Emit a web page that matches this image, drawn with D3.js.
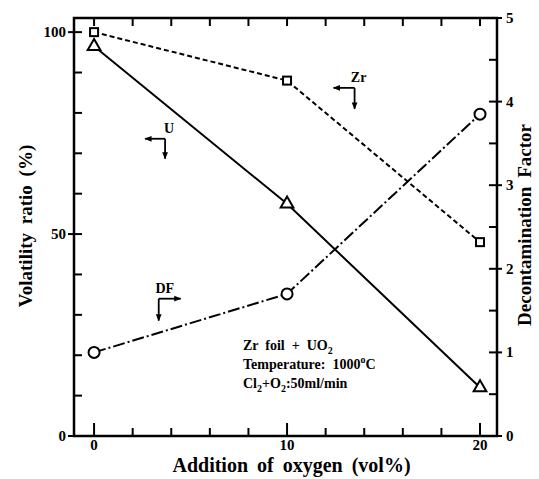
<!DOCTYPE html>
<html>
<head>
<meta charset="utf-8">
<script src="https://cdn.jsdelivr.net/npm/d3@7"></script>
<style>
  body { margin: 0; background: #fff; }
</style>
</head>
<body>
<div id="chart"></div>
<script>
// values
const oxygen = [0, 10, 20];                       // vol%
const zrVolatility = [100, 88, 48];               // %
const uVolatility = [96.5, 57.5, 12];             // %
const decontaminationFactor = [1.0, 1.7, 3.85];   // right axis

const xTicks = [0, 2, 4, 6, 8, 10, 12, 14, 16, 18, 20];
const xLabels = [0, 10, 20];
const leftTicks = [0, 10, 20, 30, 40, 50, 60, 70, 80, 90, 100];
const leftLabels = [0, 50, 100];
const rightTicks = [0, 0.5, 1, 1.5, 2, 2.5, 3, 3.5, 4, 4.5, 5];
const rightLabels = [0, 1, 2, 3, 4, 5];

const width = 539, height = 479;
const frame = {left: 74, right: 497, top: 18, bottom: 436};
const serif = "'Liberation Serif', 'DejaVu Serif', serif";

const svg = d3.select("#chart").append("svg")
    .attr("width", width)
    .attr("height", height)
    .attr("viewBox", `0 0 ${width} ${height}`)
    .attr("font-family", serif);

const x = d3.scaleLinear().domain([-1.04, 20.88]).range([frame.left, frame.right]);
const yL = d3.scaleLinear().domain([0, 103.5]).range([frame.bottom, frame.top]);
const yR = d3.scaleLinear().domain([0, 5]).range([frame.bottom, frame.top]);

// ticks
const tickG = svg.append("g").attr("stroke", "#000").attr("stroke-width", 2);
xTicks.forEach(v => {
    const major = v % 10 === 0;
    tickG.append("line").attr("x1", x(v)).attr("x2", x(v))
        .attr("y1", frame.bottom).attr("y2", frame.bottom - (major ? 13 : 8));
    tickG.append("line").attr("x1", x(v)).attr("x2", x(v))
        .attr("y1", frame.top).attr("y2", frame.top + 8);
});
leftTicks.forEach(v => {
    const major = v % 50 === 0;
    tickG.append("line").attr("y1", yL(v)).attr("y2", yL(v))
        .attr("x1", frame.left - (major ? 6 : 0)).attr("x2", frame.left + 8);
});
rightTicks.forEach(v => {
    const major = Number.isInteger(v);
    tickG.append("line").attr("y1", yR(v)).attr("y2", yR(v))
        .attr("x1", frame.right - 8).attr("x2", frame.right + (major ? 5 : 0));
});

// frame
svg.append("rect")
    .attr("x", frame.left).attr("y", frame.top)
    .attr("width", frame.right - frame.left)
    .attr("height", frame.bottom - frame.top)
    .attr("fill", "none").attr("stroke", "#000").attr("stroke-width", 2.5);

// tick labels
svg.selectAll(".xl").data(xLabels).join("text")
    .attr("x", d => x(d)).attr("y", frame.bottom + 14)
    .attr("text-anchor", "middle").attr("font-size", 15).attr("font-weight", "bold")
    .text(d => d);
svg.selectAll(".ll").data(leftLabels).join("text")
    .attr("x", frame.left - 8).attr("y", d => yL(d) + 5)
    .attr("text-anchor", "end").attr("font-size", 15).attr("font-weight", "bold")
    .text(d => d);
svg.selectAll(".rl").data(rightLabels).join("text")
    .attr("x", frame.right + 9).attr("y", d => yR(d) + 5)
    .attr("text-anchor", "start").attr("font-size", 15).attr("font-weight", "bold")
    .text(d => d);

// axis titles
svg.append("text")
    .attr("x", (frame.left + frame.right) / 2 + 6).attr("y", 472)
    .attr("text-anchor", "middle").attr("font-size", 20)
    .attr("font-weight", "bold").attr("word-spacing", 4)
    .text("Addition of oxygen (vol%)");
svg.append("text")
    .attr("transform", "translate(32,226) rotate(-90)")
    .attr("text-anchor", "middle").attr("font-size", 19)
    .attr("font-weight", "bold").attr("word-spacing", 4)
    .text("Volatility ratio (%)");
svg.append("text")
    .attr("transform", "translate(531,225) rotate(-90)")
    .attr("text-anchor", "middle").attr("font-size", 19)
    .attr("font-weight", "bold").attr("word-spacing", 4)
    .text("Decontamination Factor");

// series
const lineL = d3.line().x((d, i) => x(oxygen[i])).y(d => yL(d));
const lineR = d3.line().x((d, i) => x(oxygen[i])).y(d => yR(d));

svg.append("path").datum(zrVolatility).attr("d", lineL)
    .attr("fill", "none").attr("stroke", "#000").attr("stroke-width", 2)
    .attr("stroke-dasharray", "5,3");
svg.append("path").datum(uVolatility).attr("d", lineL)
    .attr("fill", "none").attr("stroke", "#000").attr("stroke-width", 2);
svg.append("path").datum(decontaminationFactor).attr("d", lineR)
    .attr("fill", "none").attr("stroke", "#000").attr("stroke-width", 2)
    .attr("stroke-dasharray", "12,3,2,3");

// markers
svg.selectAll(".sq").data(zrVolatility).join("rect")
    .attr("x", (d, i) => x(oxygen[i]) - 4).attr("y", d => yL(d) - 4)
    .attr("width", 8).attr("height", 8)
    .attr("fill", "#fff").attr("stroke", "#000").attr("stroke-width", 2);
const tri = d3.symbol().type(d3.symbolTriangle).size(70);
svg.selectAll(".tri").data(uVolatility).join("path")
    .attr("d", tri)
    .attr("transform", (d, i) => `translate(${x(oxygen[i])},${yL(d)})`)
    .attr("fill", "#fff").attr("stroke", "#000").attr("stroke-width", 2);
svg.selectAll(".circ").data(decontaminationFactor).join("circle")
    .attr("cx", (d, i) => x(oxygen[i])).attr("cy", d => yR(d)).attr("r", 5.5)
    .attr("fill", "#fff").attr("stroke", "#000").attr("stroke-width", 2);

// series labels with bent arrows
const defs = svg.append("defs");
defs.append("marker").attr("id", "ah")
    .attr("viewBox", "0 0 10 10").attr("refX", 9).attr("refY", 5)
    .attr("markerWidth", 4).attr("markerHeight", 4).attr("orient", "auto-start-reverse")
    .append("path").attr("d", "M0,1L10,5L0,9Z").attr("fill", "#000");

const callouts = [
    {label: "U", ox: 3.68, vol: 73.6, hx: -20, vy: 20},
    {label: "Zr", ox: 13.5, vol: 86.2, hx: -21, vy: 21},
    {label: "DF", ox: 3.35, vol: 34.0, hx: 22, vy: 22}
];
callouts.forEach(c => {
    const cx = x(c.ox), cy = yL(c.vol);
    const g = svg.append("g").attr("stroke", "#000").attr("stroke-width", 1.8).attr("fill", "none");
    g.append("line").attr("x1", cx).attr("y1", cy).attr("x2", cx + c.hx).attr("y2", cy)
        .attr("marker-end", "url(#ah)");
    g.append("line").attr("x1", cx).attr("y1", cy).attr("x2", cx).attr("y2", cy + c.vy)
        .attr("marker-end", "url(#ah)");
    svg.append("text")
        .attr("x", cx + (c.hx < 0 ? 4 : 6)).attr("y", cy - 6)
        .attr("text-anchor", "middle").attr("font-size", 14).attr("font-weight", "bold")
        .text(c.label);
});

// condition note
const note = svg.append("text").attr("font-size", 14).attr("font-weight", "bold")
    .style("white-space", "pre");
const n1 = note.append("tspan").attr("x", 243).attr("y", 350);
n1.append("tspan").text("Zr  foil  +  UO");
n1.append("tspan").attr("font-size", 10).attr("dy", 4).text("2");
note.append("tspan").attr("x", 243).attr("y", 369).text("Temperature:  1000");
note.append("tspan").attr("font-size", 10).attr("dy", -6).text("o");
note.append("tspan").attr("dy", 6).text("C");
const n3 = note.append("tspan").attr("x", 243).attr("y", 388);
n3.append("tspan").text("Cl");
n3.append("tspan").attr("font-size", 10).attr("dy", 4).text("2");
n3.append("tspan").attr("dy", -4).text("+O");
n3.append("tspan").attr("font-size", 10).attr("dy", 4).text("2");
n3.append("tspan").attr("dy", -4).text(":50ml/min");
</script>
</body>
</html>
